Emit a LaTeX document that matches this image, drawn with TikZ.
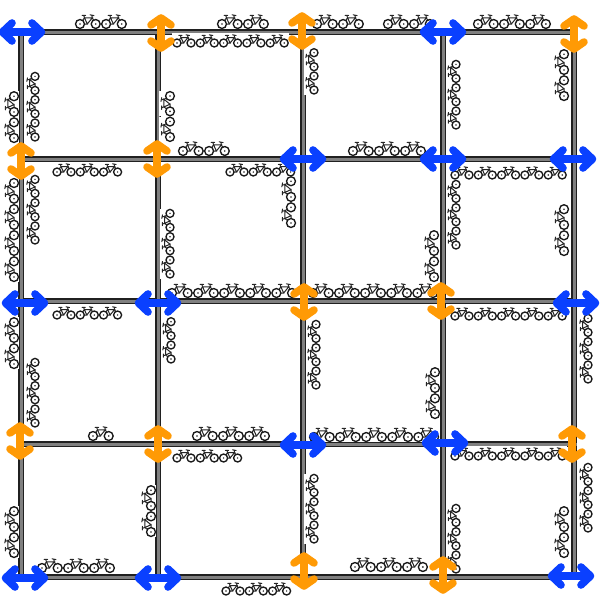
\documentclass[tikz,border=0pt]{standalone}
\definecolor{arrowblue}{HTML}{0A40FF}
\definecolor{arroworange}{HTML}{FF9A05}
\definecolor{wallgray}{HTML}{808080}
\definecolor{walldark}{HTML}{202020}
\tikzset{
  wallout/.style={draw=walldark,line width=5.2pt,line cap=butt},
  wallin/.style={draw=wallgray,line width=3pt,line cap=butt},
  wheel/.style={draw=black!90,line width=1.35pt,fill=white},
  frameline/.style={draw=black!85,line width=1pt,line cap=round},
  twoway/.style={line width=7.6pt,line cap=round,line join=round},
}
\newcommand{\onebike}{%
  \fill[white] (-4.6,-10) rectangle (18.6,4.2);
  \draw[frameline] (0,0)--(4,-5.5)--(6.5,0)--(0,0) (4,-5.5)--(11,-5.5)--(6.5,0) (11,-5.5)--(14,0)
    (10.5,-8)--(11,-5.5) (9,-8.2)--(12.5,-7.5) (4,-5.5)--(3.4,-7.5) (1.8,-7.6)--(5,-7.6);
  \draw[wheel] (0,0) circle (4);
  \draw[wheel] (14,0) circle (4);
  \fill[black!85] (0,0) circle (.8) (14,0) circle (.8);
}
% x, y of first wheel, count, scale, rotation
\newcommand{\bikerun}[5]{%
  \begin{scope}[shift={(#1,#2)},rotate=#5,scale=#4]
    \foreach \k in {1,...,#3}{\begin{scope}[xshift={(\k-1)*23.3}]\onebike\end{scope}}
  \end{scope}}
\newcommand{\hb}[4]{\bikerun{#1}{#2}{#3}{#4}{0}}
\newcommand{\vb}[4]{\bikerun{#1}{#2}{#3}{#4}{90}}
\newcommand{\harrow}[3]{\draw[twoway,#3] (#1-19.5,#2)--(#1+19.5,#2)
  (#1-10,#2-9)--(#1-19.5,#2)--(#1-10,#2+9) (#1+10,#2-9)--(#1+19.5,#2)--(#1+10,#2+9);}
\newcommand{\varrow}[3]{\draw[twoway,#3] (#1,#2-15)--(#1,#2+15)
  (#1-10,#2-8)--(#1,#2-15)--(#1+10,#2-8) (#1-10,#2+8)--(#1,#2+15)--(#1+10,#2+8);}
\begin{document}
\begin{tikzpicture}[x=1pt,y=-1pt]
\useasboundingbox[fill=white] (0,0) rectangle (600,600);
% grid
\foreach \st in {wallout,wallin}{
  \foreach \p in {21,158,303,443,574}{\draw[\st] (\p,29.4)--(\p,579.6);}
  \foreach \p in {32,159,301,444,577}{\draw[\st] (18.4,\p)--(576.6,\p);}
}
% horizontal bikes
\hb{80}{24}{2}{1.12}\hb{222}{24}{2}{1.12}\hb{317}{24}{2}{1.12}\hb{388}{24}{2}{1.12}\hb{478}{24}{3}{1.12}
\hb{177}{43}{5}{1}
\hb{183}{151}{2}{1.12}\hb{353}{151}{3}{1.12}
\hb{57}{172}{3}{1}\hb{230}{172}{3}{1}\hb{455}{175}{5}{1}
\hb{172}{293}{5}{1.12}\hb{313}{293}{5}{1.12}
\hb{57}{315}{3}{1}\hb{455}{316}{5}{1}
\hb{93}{436}{1}{1.12}\hb{197}{436}{3}{1.12}\hb{314}{437}{5}{1.12}
\hb{177}{458}{3}{1}\hb{455}{456}{5}{1}
\hb{42}{568}{3}{1.12}\hb{355}{567}{3}{1.12}
\hb{226}{591}{3}{1}
% vertical bikes
\vb{35}{137}{3}{1}\vb{14}{138}{2}{1.12}\vb{14}{277}{4}{1.12}\vb{35}{240}{3}{1}
\vb{14}{364}{2}{1.12}\vb{35}{423}{3}{1}\vb{14}{553}{2}{1.12}
\vb{170}{137}{2}{1.1}\vb{170}{274}{3}{1}\vb{171}{359}{2}{1}\vb{151}{532}{2}{1.12}
\vb{291}{223}{2}{1.12}
\vb{314}{90}{2}{1}\vb{316}{385}{3}{1}\vb{314}{539}{3}{1}
\vb{434}{277}{2}{1.12}\vb{435}{414}{2}{1.12}
\vb{456}{125}{3}{1}\vb{456}{245}{3}{1}\vb{456}{569}{3}{1}
\vb{564}{96}{2}{1.12}\vb{564}{251}{2}{1.12}\vb{564}{553}{2}{1.12}
\vb{588}{379}{3}{1}\vb{588}{528}{3}{1}
% blue arrows
\foreach \a/\b in {22/32,443/32,303/159,443/159,573/159,25/303,158/303,576/303,303/445,445/443,25/578,158/578,571/576}
  {\harrow{\a}{\b}{arrowblue}}
% orange arrows
\foreach \a/\b in {161/33,302/31,574/34,21/161,157/159,304/302,441/301,20/441,158/444,572/444,304/571,443/575}
  {\varrow{\a}{\b}{arroworange}}
\end{tikzpicture}
\end{document}
